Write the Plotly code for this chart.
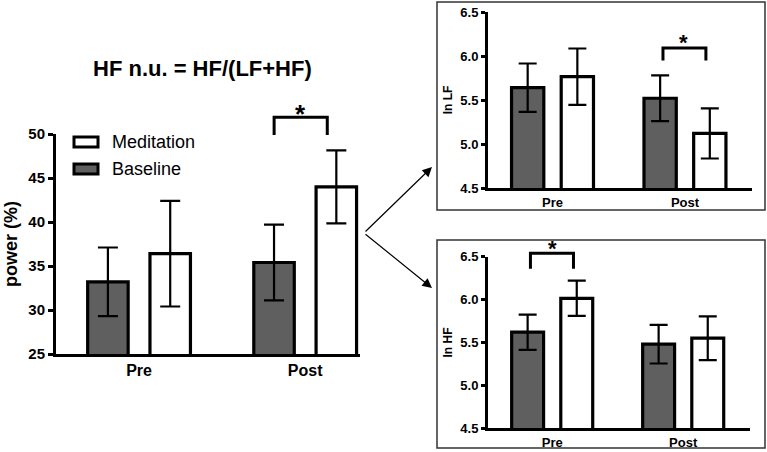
import plotly.graph_objects as go

# ---- data ----
groups = ["Pre", "Post"]
series = ["Baseline", "Meditation"]

hfnu_baseline = [33.2, 35.4]
hfnu_baseline_err = [3.9, 4.3]
hfnu_meditation = [36.4, 44.0]
hfnu_meditation_err = [6.0, 4.15]

lnlf_baseline = [5.64, 5.52]
lnlf_baseline_err = [0.275, 0.26]
lnlf_meditation = [5.765, 5.12]
lnlf_meditation_err = [0.32, 0.285]

lnhf_baseline = [5.62, 5.48]
lnhf_baseline_err = [0.205, 0.225]
lnhf_meditation = [6.015, 5.55]
lnhf_meditation_err = [0.205, 0.255]

main_ticks = [25, 30, 35, 40, 45, 50]
small_ticks = [4.5, 5.0, 5.5, 6.0, 6.5]

W, H = 767, 452
GRAY = "#5f5f5f"
FONT = "Liberation Sans, Arial, sans-serif"


def px(x):
    return x / W


def py(y):
    return 1 - y / H


Y1_DOM, Y1_RNG = [py(354), py(134)], [25, 50]
Y2_DOM, Y2_RNG = [py(188), py(12)], [4.5, 6.5]
Y3_DOM, Y3_RNG = [py(428.3), py(256.7)], [4.5, 6.5]


def to_paper(v, dom, rng):
    return dom[0] + (v - rng[0]) / (rng[1] - rng[0]) * (dom[1] - dom[0])


fig = go.Figure()


def add_pair(base, base_err, med, med_err, xa, ya, capw):
    fig.add_trace(go.Bar(
        x=groups, y=base, name="Baseline", offsetgroup="b",
        marker=dict(color=GRAY, line=dict(color="black", width=3.2)),
        error_y=dict(type="data", array=base_err, color="black", thickness=2.2, width=capw),
        xaxis=xa, yaxis=ya, showlegend=False))
    fig.add_trace(go.Bar(
        x=groups, y=med, name="Meditation", offsetgroup="m",
        marker=dict(color="white", line=dict(color="black", width=3.2)),
        error_y=dict(type="data", array=med_err, color="black", thickness=2.2, width=capw),
        xaxis=xa, yaxis=ya, showlegend=False))


add_pair(hfnu_baseline, hfnu_baseline_err, hfnu_meditation, hfnu_meditation_err, "x", "y", 10)
add_pair(lnlf_baseline, lnlf_baseline_err, lnlf_meditation, lnlf_meditation_err, "x2", "y2", 9)
add_pair(lnhf_baseline, lnhf_baseline_err, lnhf_meditation, lnhf_meditation_err, "x3", "y3", 9)

bold = dict(family=FONT, color="black", weight="bold")

xcommon = dict(type="category", showline=True, linecolor="black", linewidth=3,
               ticks="", showgrid=False, zeroline=False, fixedrange=True, automargin=False)
ycommon = dict(showline=True, linecolor="black", linewidth=3, ticks="outside",
               tickcolor="black", showgrid=False, zeroline=False, fixedrange=True,
               automargin=False)

fig.update_layout(
    width=W, height=H, margin=dict(l=0, r=0, t=0, b=0, autoexpand=False),
    paper_bgcolor="white", plot_bgcolor="rgba(0,0,0,0)",
    barmode="group", bargap=0.25, bargroupgap=0.35,
    font=dict(family=FONT, color="black"),
    xaxis=dict(xcommon, domain=[px(56), px(360)], range=[-0.5, 1.33],
               tickfont=dict(bold, size=16), anchor="y"),
    yaxis=dict(ycommon, domain=Y1_DOM, range=Y1_RNG,
               tickvals=main_ticks, ticklen=5, tickwidth=3,
               tickfont=dict(bold, size=15), anchor="x",
               title=dict(text="power (%)", font=dict(bold, size=18), standoff=7)),
    xaxis2=dict(xcommon, domain=[px(488), px(752)], range=[-0.487, 1.506],
                tickfont=dict(bold, size=13), anchor="y2"),
    yaxis2=dict(ycommon, domain=Y2_DOM, range=Y2_RNG,
                tickvals=small_ticks, tickformat=".1f", ticklen=4, tickwidth=3,
                tickfont=dict(bold, size=13), anchor="x2",
                title=dict(text="ln LF", font=dict(bold, size=12), standoff=6)),
    xaxis3=dict(xcommon, domain=[px(488), px(750)], range=[-0.49, 1.51],
                tickfont=dict(bold, size=13), anchor="y3"),
    yaxis3=dict(ycommon, domain=Y3_DOM, range=Y3_RNG,
                tickvals=small_ticks, tickformat=".1f", ticklen=4, tickwidth=3,
                tickfont=dict(bold, size=13), anchor="x3",
                title=dict(text="ln HF", font=dict(bold, size=12), standoff=6)),
)

shapes = []
# panel boxes
for y0, y1 in [(2, 210), (240, 448)]:
    shapes.append(dict(type="rect", xref="paper", yref="paper",
                       x0=px(437), x1=px(765), y0=py(y1), y1=py(y0),
                       line=dict(color="#333333", width=1.5)))


# significance brackets (x on the category axis, y converted to paper so they are not clipped)
def bracket(xa, dom, rng, x0, x1, ybot, ytop):
    yb, yt = to_paper(ybot, dom, rng), to_paper(ytop, dom, rng)
    shapes.append(dict(type="path", xref=xa, yref="paper",
                       path=f"M {x0},{yb} L {x0},{yt} L {x1},{yt} L {x1},{yb}",
                       line=dict(color="black", width=3)))


bracket("x", Y1_DOM, Y1_RNG, 0.813, 1.133, 49.9, 51.9)
bracket("x2", Y2_DOM, Y2_RNG, 0.834, 1.158, 5.95, 6.09)
bracket("x3", Y3_DOM, Y3_RNG, -0.166, 0.1625, 6.36, 6.54)

# manual legend boxes
shapes.append(dict(type="rect", xref="paper", yref="paper", x0=px(74), x1=px(98),
                   y0=py(147), y1=py(137), fillcolor="white", line=dict(color="black", width=3)))
shapes.append(dict(type="rect", xref="paper", yref="paper", x0=px(74), x1=px(98),
                   y0=py(174), y1=py(164), fillcolor=GRAY, line=dict(color="black", width=3)))
fig.update_layout(shapes=shapes)

ann = []
ann.append(dict(text="HF n.u. = HF/(LF+HF)", xref="paper", yref="paper", x=px(202), y=py(68),
                showarrow=False, font=dict(bold, size=22), xanchor="center", yanchor="middle"))
ann.append(dict(text="Meditation", xref="paper", yref="paper", x=px(110), y=py(142),
                showarrow=False, font=dict(family=FONT, size=18, color="black"),
                xanchor="left", yanchor="middle"))
ann.append(dict(text="Baseline", xref="paper", yref="paper", x=px(110), y=py(169),
                showarrow=False, font=dict(family=FONT, size=18, color="black"),
                xanchor="left", yanchor="middle"))
# stars
ann.append(dict(text="*", xref="x", yref="paper", x=0.97, y=to_paper(54.2, Y1_DOM, Y1_RNG),
                showarrow=False, font=dict(bold, size=26)))
ann.append(dict(text="*", xref="x2", yref="paper", x=0.99, y=to_paper(6.32, Y2_DOM, Y2_RNG),
                showarrow=False, font=dict(bold, size=22)))
ann.append(dict(text="*", xref="x3", yref="paper", x=0.0, y=to_paper(6.595, Y3_DOM, Y3_RNG),
                showarrow=False, font=dict(bold, size=22)))
# arrows
for tip_y in [167, 288]:
    ann.append(dict(text="", xref="paper", yref="paper", x=px(432), y=py(tip_y),
                    ax=364 - 432, ay=233 - tip_y, axref="pixel", ayref="pixel",
                    showarrow=True, arrowhead=2, arrowsize=1.6, arrowwidth=1.2,
                    arrowcolor="black"))
fig.update_layout(annotations=ann)

fig.write_html("out.html", config={"displayModeBar": False},
               post_script="document.body.style.margin='0';document.body.style.overflow='hidden';")
